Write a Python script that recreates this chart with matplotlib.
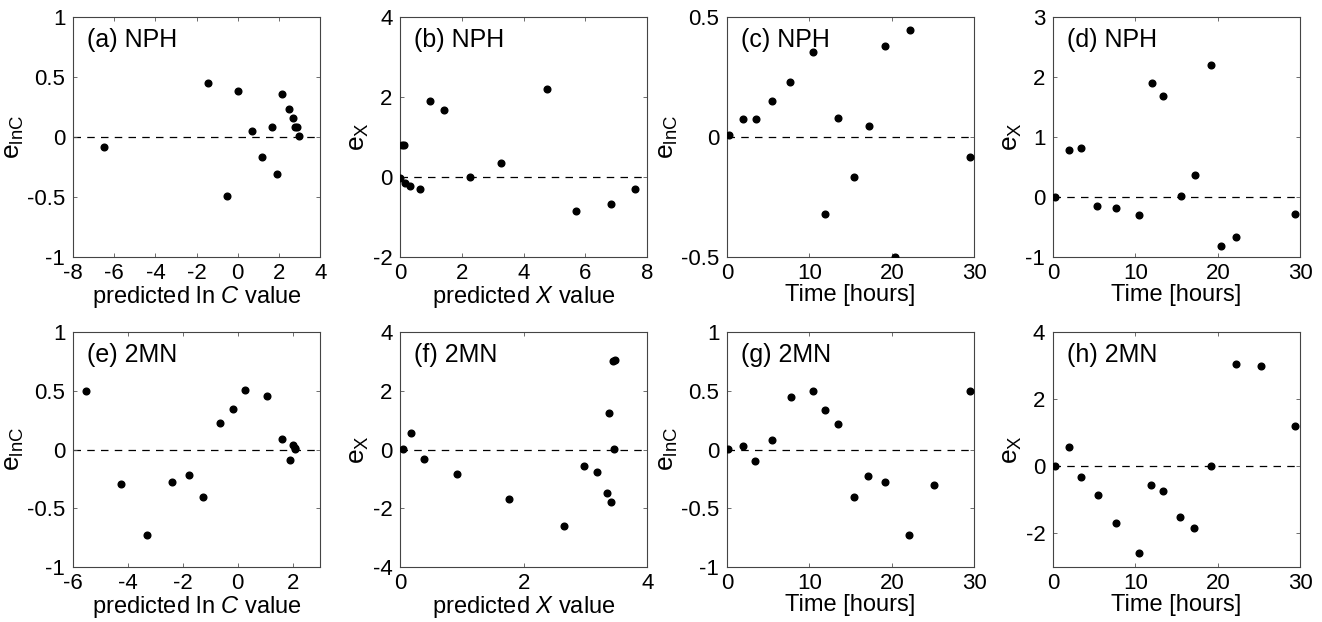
import matplotlib
matplotlib.use("Agg")
import matplotlib.pyplot as plt

plt.rcParams['font.family'] = ['Liberation Sans', 'DejaVu Sans']
plt.rcParams['mathtext.fontset'] = 'custom'
plt.rcParams['mathtext.rm'] = 'Liberation Sans'
plt.rcParams['mathtext.it'] = 'Liberation Sans:italic'
plt.rcParams['axes.unicode_minus'] = False

# (a) NPH: predicted ln C vs residual e_lnC
a_x = [-6.49, -1.43, 0.01, -0.51, 0.71, 1.19, 1.65, 1.92, 2.17, 2.51, 2.69, 2.80, 2.86, 2.95]
a_y = [-0.081, 0.448, 0.387, -0.49, 0.05, -0.164, 0.084, -0.312, 0.357, 0.231, 0.156, 0.081, 0.084, 0.011]
# (b) NPH: predicted X vs e_X
b_x = [0.0, 0.06, 0.12, 0.16, 0.32, 0.66, 0.97, 1.42, 2.25, 3.26, 4.74, 5.69, 6.82, 7.61]
b_y = [-0.02, 0.79, 0.79, -0.16, -0.22, -0.31, 1.91, 1.67, -0.01, 0.36, 2.19, -0.84, -0.67, -0.30]
# (c) NPH: time vs e_lnC
c_x = [0.2, 2.0, 3.5, 5.5, 7.7, 10.5, 11.9, 13.5, 15.4, 17.2, 19.2, 20.4, 22.2, 29.5]
c_y = [0.007, 0.073, 0.073, 0.151, 0.229, 0.355, -0.32, 0.081, -0.168, 0.045, 0.38, -0.499, 0.445, -0.083]
# (d) NPH: time vs e_X
d_x = [0.2, 2.0, 3.4, 5.4, 7.7, 10.4, 12.0, 13.4, 15.5, 17.2, 19.2, 20.4, 22.2, 29.4]
d_y = [0.0, 0.78, 0.81, -0.15, -0.19, -0.30, 1.90, 1.69, 0.02, 0.37, 2.20, -0.81, -0.66, -0.29]
# (e) 2MN: predicted ln C vs e_lnC
e_x = [-5.54, -4.25, -3.32, -2.40, -1.79, -1.26, -0.65, -0.17, 0.28, 1.07, 1.60, 1.90, 2.02, 2.08, 2.10]
e_y = [0.498, -0.294, -0.727, -0.274, -0.218, -0.402, 0.226, 0.348, 0.504, 0.453, 0.093, -0.093, 0.04, 0.017, 0.003]
# (f) 2MN: predicted X vs e_X
f_x = [0.054, 0.17, 0.39, 0.92, 1.77, 2.66, 2.98, 3.19, 3.35, 3.38, 3.42, 3.45, 3.48, 3.46]
f_y = [0.01, 0.55, -0.32, -0.85, -1.70, -2.59, -0.55, -0.75, -1.48, 1.23, -1.80, 3.01, 3.04, 0.01]
# (g) 2MN: time vs e_lnC
g_x = [0.16, 1.98, 3.44, 5.5, 7.76, 10.47, 11.93, 13.42, 15.41, 17.1, 19.13, 22.08, 25.07, 29.44]
g_y = [0.006, 0.028, -0.096, 0.085, 0.445, 0.502, 0.340, 0.218, -0.406, -0.224, -0.278, -0.729, -0.301, 0.494]
# (h) 2MN: time vs e_X
h_x = [0.2, 1.94, 3.39, 5.41, 7.63, 10.38, 11.87, 13.36, 15.42, 17.16, 19.14, 22.24, 25.27, 29.39]
h_y = [0.01, 0.57, -0.33, -0.86, -1.70, -2.59, -0.55, -0.74, -1.50, -1.83, 0.01, 3.05, 3.0, 1.21]

titles = ['(a) NPH', '(b) NPH', '(c) NPH', '(d) NPH',
          '(e) 2MN', '(f) 2MN', '(g) 2MN', '(h) 2MN']
xlab_lnC = r'predicted ln $\it{C}$ value'
xlab_X = r'predicted $\it{X}$ value'
xlab_t = 'Time [hours]'
ylab_lnC = r'$\mathrm{e}_{\mathrm{lnC}}$'
ylab_X = r'$\mathrm{e}_{\mathrm{X}}$'

panels = [
    (a_x, a_y, (-8, 4), (-1, 1), [-8, -6, -4, -2, 0, 2, 4], [-1, -0.5, 0, 0.5, 1], xlab_lnC, ylab_lnC),
    (b_x, b_y, (0, 8), (-2, 4), [0, 2, 4, 6, 8], [-2, 0, 2, 4], xlab_X, ylab_X),
    (c_x, c_y, (0, 30), (-0.5, 0.5), [0, 10, 20, 30], [-0.5, 0, 0.5], xlab_t, ylab_lnC),
    (d_x, d_y, (0, 30), (-1, 3), [0, 10, 20, 30], [-1, 0, 1, 2, 3], xlab_t, ylab_X),
    (e_x, e_y, (-6, 3), (-1, 1), [-6, -4, -2, 0, 2], [-1, -0.5, 0, 0.5, 1], xlab_lnC, ylab_lnC),
    (f_x, f_y, (0, 4), (-4, 4), [0, 2, 4], [-4, -2, 0, 2, 4], xlab_X, ylab_X),
    (g_x, g_y, (0, 30), (-1, 1), [0, 10, 20, 30], [-1, -0.5, 0, 0.5, 1], xlab_t, ylab_lnC),
    (h_x, h_y, (0, 30), (-3, 4), [0, 10, 20, 30], [-2, 0, 2, 4], xlab_t, ylab_X),
]

fig = plt.figure(figsize=(13.22, 6.22), dpi=100)
lefts = [0.0552, 0.3026, 0.5499, 0.7965]
width = 0.187
rows = [(0.5868, 0.386), (0.0884, 0.3778)]

def fmt(v):
    if float(v).is_integer():
        return str(int(v))
    return ('%g' % v)

for i, (xs, ys, xl, yl, xt, yt, xlab, ylab) in enumerate(panels):
    r, c = divmod(i, 4)
    bottom, height = rows[r]
    ax = fig.add_axes([lefts[c], bottom, width, height])
    ax.plot(xl, [0, 0], linestyle=(0, (6, 5)), color='black', linewidth=0.9, zorder=1)
    ax.plot(xs, ys, 'o', color='black', markersize=4.8, zorder=3)
    ax.set_xlim(*xl)
    ax.set_ylim(*yl)
    ax.set_xticks(xt)
    ax.set_yticks(yt)
    ax.set_xticklabels([fmt(v) for v in xt])
    ax.set_yticklabels([fmt(v) for v in yt])
    ax.tick_params(direction='in', length=3, width=0.6, labelsize=16, top=True, right=True,
                   color='#555555')
    ax.tick_params(axis='y', pad=5.5)
    ax.tick_params(axis='x', pad=4)
    for s in ax.spines.values():
        s.set_color('#444444')
        s.set_linewidth(0.8)
    ax.set_xlabel(xlab, fontsize=17, labelpad=0)
    ax.set_ylabel(ylab, fontsize=19, labelpad=1)
    ax.text(0.055, 0.955, titles[i], transform=ax.transAxes, fontsize=18,
            ha='left', va='top')

fig.savefig('out.png', dpi=100)
